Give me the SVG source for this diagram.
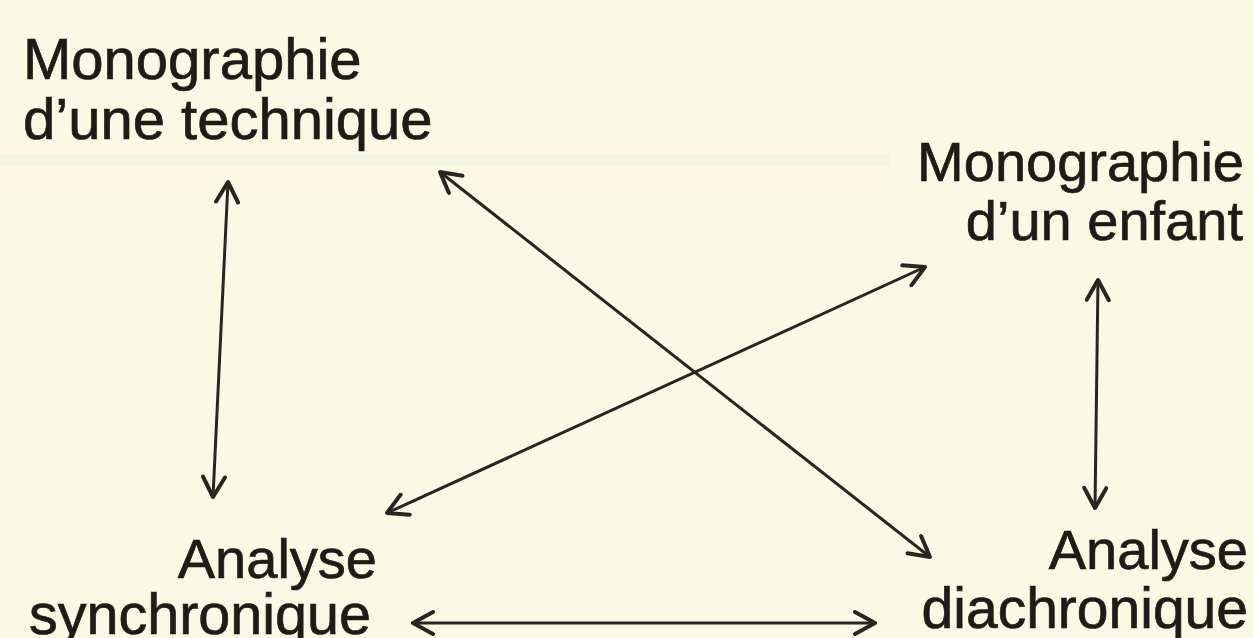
<svg xmlns="http://www.w3.org/2000/svg" width="1253" height="638" viewBox="0 0 1253 638">
  <style>
    .lbl { font-family: "Liberation Sans", Arial, Helvetica, sans-serif; font-size: 56px; fill: #1f1b16; stroke: #1f1b16; stroke-width: 0.7px; }
    .big { font-size: 58px; }
    .end { text-anchor: end; }
    .conn { stroke: #2a2520; stroke-width: 3; fill: none; marker-start: url(#head); marker-end: url(#head); }
  </style>
  <defs>
    <marker id="head" viewBox="0 0 26 26" refX="23" refY="13" markerWidth="26" markerHeight="26" markerUnits="userSpaceOnUse" orient="auto-start-reverse">
      <path d="M3,2 L23,13 L3,24" fill="none" stroke="#2a2520" stroke-width="4" stroke-linecap="round" stroke-linejoin="round"/>
    </marker>
  </defs>
  <rect x="0" y="0" width="1253" height="638" fill="#fdf8e3"/>
  <rect x="0" y="154" width="890" height="12" fill="#eef3df" opacity="0.7"/>

  <g id="connectors">
    <line class="conn" x1="228" y1="182" x2="213" y2="497"/>
    <line class="conn" x1="1098" y1="280" x2="1095" y2="508"/>
    <line class="conn" x1="440" y1="172" x2="930" y2="557"/>
    <line class="conn" x1="925" y1="267" x2="387" y2="513"/>
    <line class="conn" x1="413" y1="623" x2="875" y2="623"/>
  </g>

  <g id="node-technique">
    <text class="lbl big" x="23" y="79">Monographie</text>
    <text class="lbl big" x="23" y="139">d’une technique</text>
  </g>
  <g id="node-enfant">
    <text class="lbl end" x="1244" y="181">Monographie</text>
    <text class="lbl end" x="1243" y="240">d’un enfant</text>
  </g>
  <g id="node-synchronique">
    <text class="lbl end" x="377" y="578">Analyse</text>
    <text class="lbl end" x="371" y="634" style="font-size:57.5px">synchronique</text>
  </g>
  <g id="node-diachronique">
    <text class="lbl end" x="1248" y="569">Analyse</text>
    <text class="lbl end" x="1248" y="628" style="font-size:57px">diachronique</text>
  </g>
</svg>
